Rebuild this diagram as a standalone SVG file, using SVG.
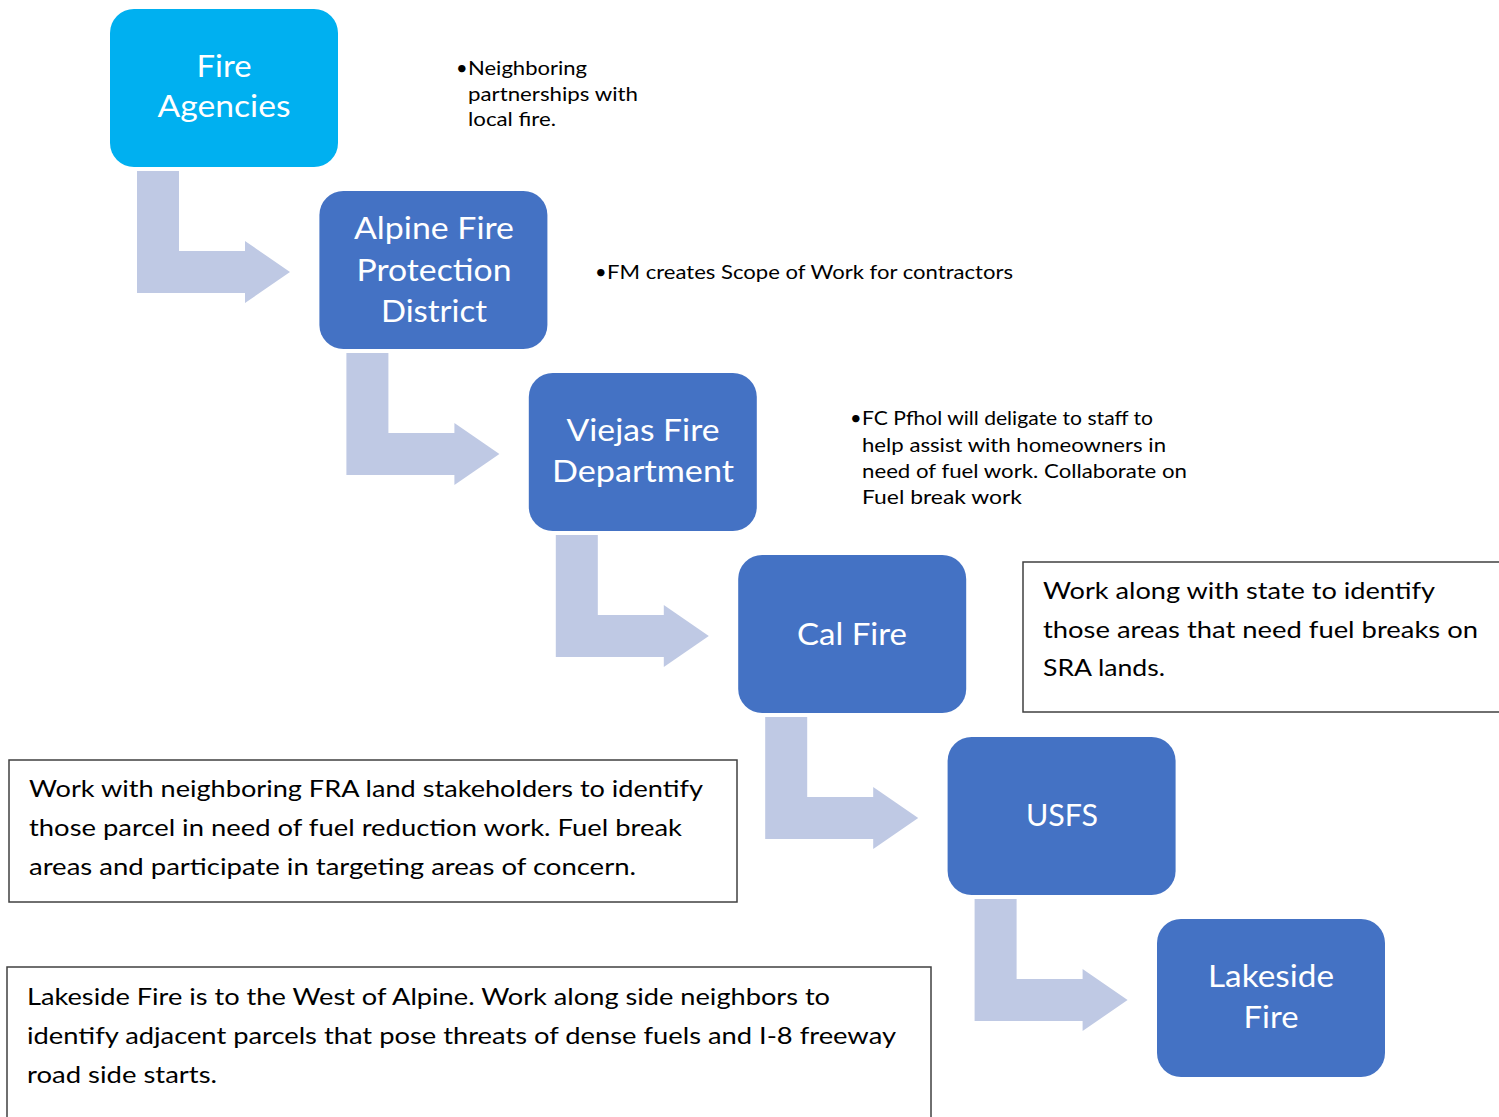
<svg xmlns="http://www.w3.org/2000/svg" xmlns:xlink="http://www.w3.org/1999/xlink" width="1499" height="1117" viewBox="0 0 1499 1117">
<style>
.node{fill:#4472C4;}
.node1{fill:#00B0F0;}
.nt{font-family:Lato,"Open Sans","Liberation Sans",sans-serif;font-size:31px;fill:#FFFFFF;text-anchor:middle;}
.bt{font-family:Lato,"Open Sans","Liberation Sans",sans-serif;font-size:20px;fill:#000000;}
.tb{fill:#FFFFFF;stroke:#404040;stroke-width:1.5;}
.tt{font-family:Lato,"Open Sans","Liberation Sans",sans-serif;font-size:23px;fill:#000000;}
.arrow{fill:#BFC9E4;}
</style>
<defs>
<path id="bend" d="M0,0 H42 V80 H108 V70 L153,101 L108,132 V122 H0 Z"/>
</defs>
<rect width="1499" height="1117" fill="#FFFFFF"/>
<g id="connectors" class="arrow">
<use xlink:href="#bend" href="#bend" transform="translate(137,171)"/>
<use xlink:href="#bend" href="#bend" transform="translate(346.4,353)"/>
<use xlink:href="#bend" href="#bend" transform="translate(555.8,535)"/>
<use xlink:href="#bend" href="#bend" transform="translate(765.2,717)"/>
<use xlink:href="#bend" href="#bend" transform="translate(974.6,899)"/>
</g>
<g id="node-fire-agencies">
<rect class="node1" x="110" y="9" width="228" height="158" rx="24"/>
<text class="nt" x="224" y="77" textLength="55" lengthAdjust="spacingAndGlyphs">Fire</text>
<text class="nt" x="224" y="117" textLength="133" lengthAdjust="spacingAndGlyphs">Agencies</text>
</g>
<g id="node-alpine">
<rect class="node" x="319.4" y="191" width="228" height="158" rx="24"/>
<text class="nt" x="434" y="239" textLength="160" lengthAdjust="spacingAndGlyphs">Alpine Fire</text>
<text class="nt" x="434" y="281" textLength="155" lengthAdjust="spacingAndGlyphs">Protection</text>
<text class="nt" x="434" y="322" textLength="106" lengthAdjust="spacingAndGlyphs">District</text>
</g>
<g id="node-viejas">
<rect class="node" x="528.8" y="373" width="228" height="158" rx="24"/>
<text class="nt" x="643" y="441" textLength="153" lengthAdjust="spacingAndGlyphs">Viejas Fire</text>
<text class="nt" x="643" y="482" textLength="182" lengthAdjust="spacingAndGlyphs">Department</text>
</g>
<g id="node-calfire">
<rect class="node" x="738.2" y="555" width="228" height="158" rx="24"/>
<text class="nt" x="852" y="645" textLength="110" lengthAdjust="spacingAndGlyphs">Cal Fire</text>
</g>
<g id="node-usfs">
<rect class="node" x="947.6" y="737" width="228" height="158" rx="24"/>
<text class="nt" x="1062" y="826" textLength="72" lengthAdjust="spacingAndGlyphs">USFS</text>
</g>
<g id="node-lakeside">
<rect class="node" x="1157" y="919" width="228" height="158" rx="24"/>
<text class="nt" x="1271" y="987" textLength="126" lengthAdjust="spacingAndGlyphs">Lakeside</text>
<text class="nt" x="1271" y="1028" textLength="55" lengthAdjust="spacingAndGlyphs">Fire</text>
</g>
<g id="note-neighboring">
<text class="bt" x="456" y="75">•</text>
<text class="bt" x="468" y="75" textLength="119" lengthAdjust="spacingAndGlyphs">Neighboring</text>
<text class="bt" x="468" y="101" textLength="170" lengthAdjust="spacingAndGlyphs">partnerships with</text>
<text class="bt" x="468" y="126" textLength="88" lengthAdjust="spacingAndGlyphs">local fire.</text>
</g>
<g id="note-fm">
<text class="bt" x="595" y="279">•</text>
<text class="bt" x="607" y="279" textLength="406" lengthAdjust="spacingAndGlyphs">FM creates Scope of Work for contractors</text>
</g>
<g id="note-fc">
<text class="bt" x="850" y="425">•</text>
<text class="bt" x="862" y="425" textLength="291" lengthAdjust="spacingAndGlyphs">FC Pfhol will deligate to staff to</text>
<text class="bt" x="862" y="451.5" textLength="304" lengthAdjust="spacingAndGlyphs">help assist with homeowners in</text>
<text class="bt" x="862" y="478" textLength="325" lengthAdjust="spacingAndGlyphs">need of fuel work. Collaborate on</text>
<text class="bt" x="862" y="504" textLength="160" lengthAdjust="spacingAndGlyphs">Fuel break work</text>
</g>
<g id="box-calfire-note">
<rect class="tb" x="1023" y="562" width="490" height="150"/>
<text class="tt" x="1043" y="599" textLength="392" lengthAdjust="spacingAndGlyphs">Work along with state to identify</text>
<text class="tt" x="1043" y="638" textLength="435" lengthAdjust="spacingAndGlyphs">those areas that need fuel breaks on</text>
<text class="tt" x="1043" y="676" textLength="122" lengthAdjust="spacingAndGlyphs">SRA lands.</text>
</g>
<g id="box-usfs-note">
<rect class="tb" x="9" y="760" width="728" height="142"/>
<text class="tt" x="29" y="797" textLength="674" lengthAdjust="spacingAndGlyphs">Work with neighboring FRA land stakeholders to identify</text>
<text class="tt" x="29" y="836" textLength="653" lengthAdjust="spacingAndGlyphs">those parcel in need of fuel reduction work. Fuel break</text>
<text class="tt" x="29" y="875" textLength="607" lengthAdjust="spacingAndGlyphs">areas and participate in targeting areas of concern.</text>
</g>
<g id="box-lakeside-note">
<rect class="tb" x="7" y="967" width="924" height="170"/>
<text class="tt" x="27" y="1005" textLength="803" lengthAdjust="spacingAndGlyphs">Lakeside Fire is to the West of Alpine. Work along side neighbors to</text>
<text class="tt" x="27" y="1044" textLength="869" lengthAdjust="spacingAndGlyphs">identify adjacent parcels that pose threats of dense fuels and I-8 freeway</text>
<text class="tt" x="27" y="1083" textLength="190" lengthAdjust="spacingAndGlyphs">road side starts.</text>
</g>
</svg>
